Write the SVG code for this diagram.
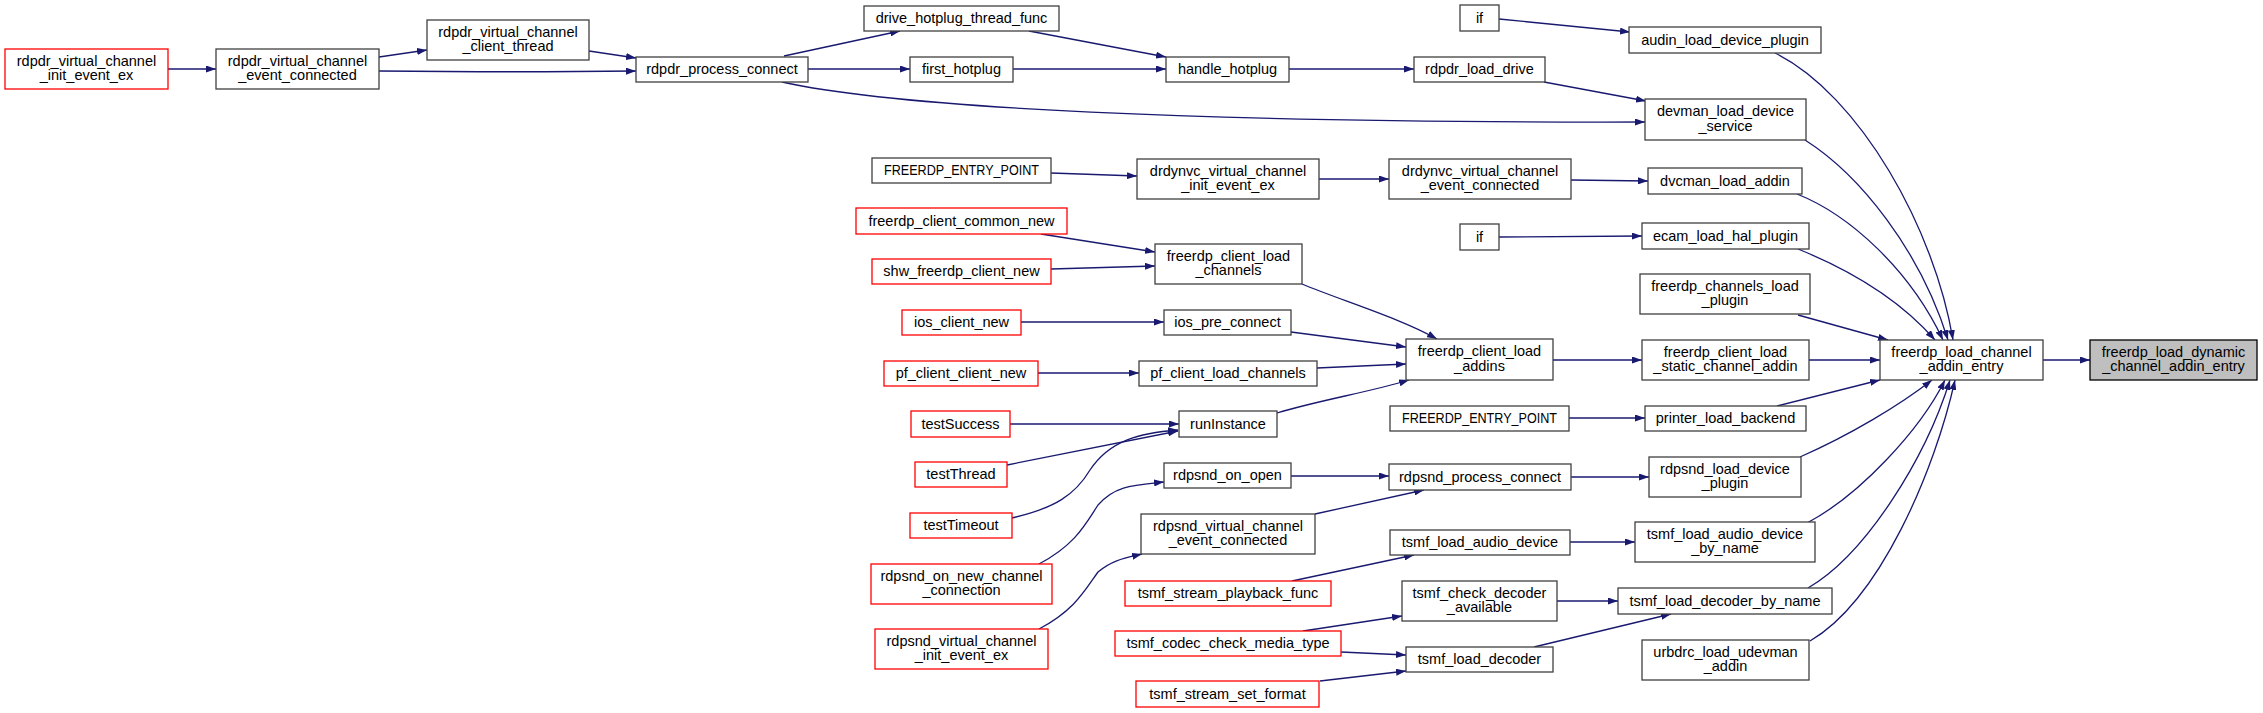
<svg xmlns="http://www.w3.org/2000/svg" width="2263" height="713" viewBox="0 0 2263 713">
<defs>
<marker id="ah" viewBox="0 0 10 7" refX="10" refY="3.5" markerWidth="10" markerHeight="7" markerUnits="userSpaceOnUse" orient="auto">
<path d="M0,0 L10,3.5 L0,7 z" fill="#191970"/>
</marker>
<style>
.node rect{fill:#ffffff;stroke:#404040;stroke-width:1.3}
.node.red rect{stroke:#ff0000}
.node.root rect{fill:#bfbfbf;stroke:#000000}
.node text{font-family:"Liberation Sans",Arial,sans-serif;font-size:14.5px;fill:#000000;text-anchor:middle}
.edges path{fill:none;stroke:#191970;stroke-width:1.3;marker-end:url(#ah)}
</style>
</defs>
<rect width="2263" height="713" fill="#ffffff"/>
<g class="edges" id="edges">
<path d="M168,69 L216,69"/>
<path d="M379,57 L427,50"/>
<path d="M379,71 C470,72 560,72 636,71"/>
<path d="M589,51 L636,58"/>
<path d="M784,56 L900,31"/>
<path d="M808,69 L910,69"/>
<path d="M782,82 C900,108 1200,123 1645,122"/>
<path d="M1029,31 L1166,57"/>
<path d="M1013,69 L1166,69"/>
<path d="M1289,69 L1414,69"/>
<path d="M1544,82 L1646,101"/>
<path d="M1499,19 L1630,32"/>
<path d="M1051,173 L1137,176"/>
<path d="M1319,179 L1389,179"/>
<path d="M1571,180 L1648,181"/>
<path d="M1499,237 L1642,236"/>
<path d="M1041,234 L1155,252"/>
<path d="M1051,269 L1155,266"/>
<path d="M1302,284 C1340,300 1400,318 1437,339"/>
<path d="M1021,322 L1164,322"/>
<path d="M1291,332 L1406,347"/>
<path d="M1038,373 L1139,373"/>
<path d="M1317,368 L1406,364"/>
<path d="M1277,413 C1320,400 1370,392 1409,380"/>
<path d="M1010,424 L1179,424"/>
<path d="M1007,465 L1178,431"/>
<path d="M1012,518 C1055,508 1075,495 1090,470 C1110,440 1140,433 1178,430"/>
<path d="M1553,360 L1642,360"/>
<path d="M1569,418 L1645,418"/>
<path d="M1291,476 L1389,476"/>
<path d="M1039,564 C1075,545 1085,525 1098,505 C1115,485 1135,485 1164,482"/>
<path d="M1315,514 L1424,490"/>
<path d="M1039,629 C1075,610 1085,590 1098,572 C1112,560 1125,558 1142,554"/>
<path d="M1571,477 L1649,477"/>
<path d="M1570,542 L1635,542"/>
<path d="M1292,581 L1414,555"/>
<path d="M1557,601 L1618,601"/>
<path d="M1303,631 L1402,616"/>
<path d="M1341,652 L1406,655"/>
<path d="M1320,681 L1406,671"/>
<path d="M1534,647 L1671,614"/>
<path d="M1775,53 C1860,95 1935,230 1953,340"/>
<path d="M1805,140 C1860,175 1920,250 1948,340"/>
<path d="M1797,194 C1850,215 1910,270 1943,340"/>
<path d="M1798,249 C1850,270 1900,300 1935,340"/>
<path d="M1798,315 L1888,340"/>
<path d="M1809,360 L1880,360"/>
<path d="M1777,406 L1880,380"/>
<path d="M1800,457 C1850,435 1900,405 1932,380"/>
<path d="M1807,523 C1860,495 1920,430 1945,380"/>
<path d="M1808,588 C1865,555 1925,460 1950,380"/>
<path d="M1810,641 C1880,600 1935,470 1955,380"/>
<path d="M2043,360 L2090,360"/>
</g>
<g id="n1" class="node red"><rect x="5" y="49" width="163" height="40"/><text x="86.5" y="65.7">rdpdr_virtual_channel</text><text x="86.5" y="80.2">_init_event_ex</text></g>
<g id="n2" class="node"><rect x="216" y="49" width="163" height="40"/><text x="297.5" y="65.7">rdpdr_virtual_channel</text><text x="297.5" y="80.2">_event_connected</text></g>
<g id="n3" class="node"><rect x="427" y="20" width="162" height="40"/><text x="508" y="36.7">rdpdr_virtual_channel</text><text x="508" y="51.2">_client_thread</text></g>
<g id="n4" class="node"><rect x="636" y="57" width="172" height="25"/><text x="722" y="74">rdpdr_process_connect</text></g>
<g id="n5" class="node"><rect x="864" y="6" width="195" height="25"/><text x="961.5" y="23">drive_hotplug_thread_func</text></g>
<g id="n6" class="node"><rect x="910" y="57" width="103" height="25"/><text x="961.5" y="74">first_hotplug</text></g>
<g id="n7" class="node"><rect x="1166" y="57" width="123" height="25"/><text x="1227.5" y="74">handle_hotplug</text></g>
<g id="n8" class="node"><rect x="1414" y="57" width="131" height="25"/><text x="1479.5" y="74">rdpdr_load_drive</text></g>
<g id="n9" class="node"><rect x="1460" y="5" width="39" height="26"/><text x="1479.5" y="22.5">if</text></g>
<g id="n10" class="node"><rect x="1629" y="27" width="192" height="26"/><text x="1725" y="44.5">audin_load_device_plugin</text></g>
<g id="n11" class="node"><rect x="1645" y="99" width="161" height="41"/><text x="1725.5" y="116.2">devman_load_device</text><text x="1725.5" y="130.7">_service</text></g>
<g id="n12" class="node"><rect x="872" y="158" width="179" height="25"/><text x="961.5" y="175" textLength="155" lengthAdjust="spacingAndGlyphs">FREERDP_ENTRY_POINT</text></g>
<g id="n13" class="node"><rect x="1137" y="159" width="182" height="40"/><text x="1228" y="175.7">drdynvc_virtual_channel</text><text x="1228" y="190.2">_init_event_ex</text></g>
<g id="n14" class="node"><rect x="1389" y="159" width="182" height="40"/><text x="1480" y="175.7">drdynvc_virtual_channel</text><text x="1480" y="190.2">_event_connected</text></g>
<g id="n15" class="node"><rect x="1648" y="168" width="154" height="26"/><text x="1725" y="185.5">dvcman_load_addin</text></g>
<g id="n16" class="node red"><rect x="856" y="208" width="211" height="26"/><text x="961.5" y="225.5">freerdp_client_common_new</text></g>
<g id="n17" class="node"><rect x="1460" y="224" width="39" height="26"/><text x="1479.5" y="241.5">if</text></g>
<g id="n18" class="node"><rect x="1642" y="223" width="167" height="26"/><text x="1725.5" y="240.5">ecam_load_hal_plugin</text></g>
<g id="n19" class="node"><rect x="1155" y="244" width="147" height="40"/><text x="1228.5" y="260.7">freerdp_client_load</text><text x="1228.5" y="275.2">_channels</text></g>
<g id="n20" class="node red"><rect x="872" y="259" width="179" height="25"/><text x="961.5" y="276">shw_freerdp_client_new</text></g>
<g id="n21" class="node"><rect x="1640" y="274" width="170" height="40"/><text x="1725" y="290.7">freerdp_channels_load</text><text x="1725" y="305.2">_plugin</text></g>
<g id="n22" class="node red"><rect x="902" y="310" width="119" height="25"/><text x="961.5" y="327">ios_client_new</text></g>
<g id="n23" class="node"><rect x="1164" y="310" width="127" height="25"/><text x="1227.5" y="327">ios_pre_connect</text></g>
<g id="n24" class="node"><rect x="1406" y="339" width="147" height="41"/><text x="1479.5" y="356.2">freerdp_client_load</text><text x="1479.5" y="370.7">_addins</text></g>
<g id="n25" class="node"><rect x="1642" y="340" width="167" height="40"/><text x="1725.5" y="356.7">freerdp_client_load</text><text x="1725.5" y="371.2">_static_channel_addin</text></g>
<g id="n26" class="node"><rect x="1880" y="340" width="163" height="40"/><text x="1961.5" y="356.7">freerdp_load_channel</text><text x="1961.5" y="371.2">_addin_entry</text></g>
<g id="n27" class="node root"><rect x="2090" y="340" width="167" height="40"/><text x="2173.5" y="356.7">freerdp_load_dynamic</text><text x="2173.5" y="371.2">_channel_addin_entry</text></g>
<g id="n28" class="node red"><rect x="884" y="361" width="154" height="25"/><text x="961" y="378">pf_client_client_new</text></g>
<g id="n29" class="node"><rect x="1139" y="361" width="178" height="25"/><text x="1228" y="378">pf_client_load_channels</text></g>
<g id="n30" class="node red"><rect x="911" y="411" width="99" height="26"/><text x="960.5" y="428.5">testSuccess</text></g>
<g id="n31" class="node"><rect x="1179" y="411" width="98" height="26"/><text x="1228" y="428.5">runInstance</text></g>
<g id="n32" class="node"><rect x="1390" y="406" width="179" height="25"/><text x="1479.5" y="423" textLength="155" lengthAdjust="spacingAndGlyphs">FREERDP_ENTRY_POINT</text></g>
<g id="n33" class="node"><rect x="1645" y="406" width="161" height="25"/><text x="1725.5" y="423">printer_load_backend</text></g>
<g id="n34" class="node red"><rect x="915" y="462" width="92" height="25"/><text x="961" y="479">testThread</text></g>
<g id="n35" class="node"><rect x="1164" y="463" width="127" height="25"/><text x="1227.5" y="480">rdpsnd_on_open</text></g>
<g id="n36" class="node"><rect x="1389" y="464" width="182" height="26"/><text x="1480" y="481.5">rdpsnd_process_connect</text></g>
<g id="n37" class="node"><rect x="1649" y="457" width="152" height="40"/><text x="1725" y="473.7">rdpsnd_load_device</text><text x="1725" y="488.2">_plugin</text></g>
<g id="n38" class="node red"><rect x="910" y="513" width="102" height="25"/><text x="961" y="530">testTimeout</text></g>
<g id="n39" class="node"><rect x="1141" y="514" width="174" height="40"/><text x="1228" y="530.7">rdpsnd_virtual_channel</text><text x="1228" y="545.2">_event_connected</text></g>
<g id="n40" class="node"><rect x="1390" y="530" width="180" height="25"/><text x="1480" y="547">tsmf_load_audio_device</text></g>
<g id="n41" class="node"><rect x="1635" y="522" width="180" height="40"/><text x="1725" y="538.7">tsmf_load_audio_device</text><text x="1725" y="553.2">_by_name</text></g>
<g id="n42" class="node red"><rect x="871" y="564" width="181" height="40"/><text x="961.5" y="580.7">rdpsnd_on_new_channel</text><text x="961.5" y="595.2">_connection</text></g>
<g id="n43" class="node red"><rect x="1125" y="581" width="206" height="25"/><text x="1228" y="598">tsmf_stream_playback_func</text></g>
<g id="n44" class="node"><rect x="1402" y="581" width="155" height="40"/><text x="1479.5" y="597.7">tsmf_check_decoder</text><text x="1479.5" y="612.2">_available</text></g>
<g id="n45" class="node"><rect x="1618" y="588" width="214" height="26"/><text x="1725" y="605.5">tsmf_load_decoder_by_name</text></g>
<g id="n46" class="node red"><rect x="875" y="629" width="173" height="40"/><text x="961.5" y="645.7">rdpsnd_virtual_channel</text><text x="961.5" y="660.2">_init_event_ex</text></g>
<g id="n47" class="node red"><rect x="1115" y="631" width="226" height="25"/><text x="1228" y="648">tsmf_codec_check_media_type</text></g>
<g id="n48" class="node"><rect x="1406" y="647" width="147" height="25"/><text x="1479.5" y="664">tsmf_load_decoder</text></g>
<g id="n49" class="node"><rect x="1642" y="640" width="167" height="40"/><text x="1725.5" y="656.7">urbdrc_load_udevman</text><text x="1725.5" y="671.2">_addin</text></g>
<g id="n50" class="node red"><rect x="1136" y="681" width="183" height="26"/><text x="1227.5" y="698.5">tsmf_stream_set_format</text></g>
</svg>
